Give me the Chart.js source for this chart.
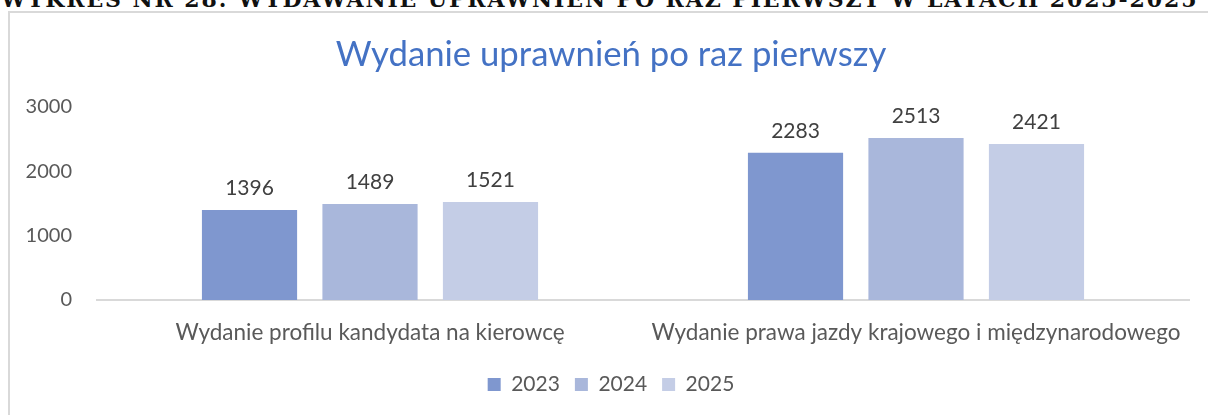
<!DOCTYPE html>
<html>
<head>
<meta charset="utf-8">
<script src="https://cdn.jsdelivr.net/npm/chart.js@4/dist/chart.umd.min.js"></script>
<style>
  body { margin: 0; background: #fff; width: 1208px; height: 415px; overflow: hidden; position: relative; }
  #heading {
    position: absolute; left: 1px; top: -14px; white-space: nowrap;
    font-family: "DejaVu Serif", serif; font-weight: bold; font-size: 22px;
    color: #111; letter-spacing: 1.9px;
  }
  #frame {
    position: absolute; left: 8px; top: 11px; width: 1400px; height: 600px;
    border-left: 2px solid #d9d9d9; border-top: 2px solid #d9d9d9;
  }
  #wrap { position: absolute; left: 0; top: 0; width: 1208px; height: 415px; }
</style>
</head>
<body>
<div id="heading">WYKRES NR 28: WYDAWANIE UPRAWNIEŃ PO RAZ PIERWSZY W LATACH 2023-2025</div>
<div id="frame"></div>
<div id="wrap"><canvas id="myChart"></canvas></div>
<script>
const categories = ['Wydanie profilu kandydata na kierowcę', 'Wydanie prawa jazdy krajowego i międzynarodowego'];
const years = ['2023', '2024', '2025'];
const values2023 = [1396, 2283];
const values2024 = [1489, 2513];
const values2025 = [1521, 2421];
const yearColors = ['#7f97cf', '#a9b7db', '#c4cde6'];

// draws the number above each bar
const barLabels = {
  id: 'barLabels',
  afterDatasetsDraw(chart) {
    const ctx = chart.ctx;
    ctx.save();
    ctx.font = '21px Lato';
    ctx.fillStyle = '#404040';
    ctx.textAlign = 'center';
    ctx.textBaseline = 'middle';
    chart.data.datasets.forEach((ds, i) => {
      chart.getDatasetMeta(i).data.forEach((bar, j) => {
        ctx.fillText(ds.data[j], bar.x, bar.y - 22);
      });
    });
    ctx.restore();
  }
};

// let the y tick labels use the left padding instead of being clipped
const widenYAxis = {
  id: 'widenYAxis',
  afterLayout(chart) {
    chart.scales.y.left = 0;
  }
};

const data = {
  labels: categories,
  datasets: [
    { label: years[0], data: values2023, backgroundColor: yearColors[0] },
    { label: years[1], data: values2024, backgroundColor: yearColors[1] },
    { label: years[2], data: values2025, backgroundColor: yearColors[2] }
  ]
};

const options = {
  responsive: true,
  maintainAspectRatio: false,
  animation: false,
  datasets: {
    bar: { categoryPercentage: 0.662, barPercentage: 0.79 }
  },
  layout: { padding: { left: 33, right: 19, top: 0, bottom: 10 } },
  scales: {
    y: {
      min: 0,
      max: 3000,
      grid: { display: false, drawTicks: false },
      border: { display: false },
      ticks: {
        stepSize: 1000,
        padding: 25,
        color: '#595959',
        font: { family: 'Lato', size: 20 },
        callback: (v) => String(v)
      },
      afterFit(scale) { scale.width = 64; }
    },
    x: {
      grid: { color: 'transparent', drawTicks: false },
      border: { color: '#d9d9d9', width: 2 },
      ticks: { padding: 19, color: '#595959', font: { family: 'Lato', size: 22.5 } },
      afterFit(scale) { scale.height = 59; }
    }
  },
  plugins: {
    title: {
      display: true,
      text: 'Wydanie uprawnień po raz pierwszy',
      color: '#4472c4',
      font: { family: 'Lato', size: 34.7, weight: 'normal', lineHeight: 1.2 },
      padding: { top: 34, bottom: 31 }
    },
    legend: {
      display: true,
      position: 'bottom',
      labels: {
        boxWidth: 13,
        boxHeight: 13,
        padding: 15,
        color: '#595959',
        font: { family: 'Lato', size: 21 }
      }
    },
    tooltip: { enabled: false }
  }
};

const chart = new Chart('myChart', {
  type: 'bar',
  data: data,
  options: options,
  plugins: [barLabels, widenYAxis]
});
</script>
</body>
</html>
